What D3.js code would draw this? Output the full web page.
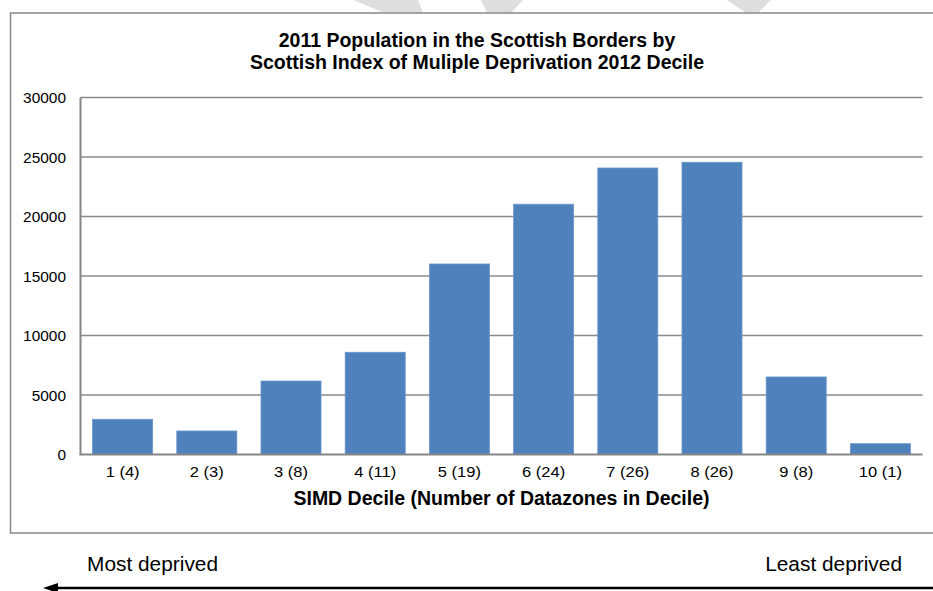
<!DOCTYPE html>
<html>
<head>
<meta charset="utf-8">
<script src="https://cdn.jsdelivr.net/npm/d3@7/dist/d3.min.js"></script>
<style>
  html, body { margin: 0; padding: 0; background: #fff; }
  svg { display: block; font-family: Arial, "Liberation Sans", sans-serif; }
</style>
</head>
<body>
<svg id="chart" width="933" height="591"></svg>
<script>
// Population (2011) per SIMD 2012 decile, Scottish Borders
const deciles = ["1 (4)", "2 (3)", "3 (8)", "4 (11)", "5 (19)", "6 (24)", "7 (26)", "8 (26)", "9 (8)", "10 (1)"];
const population = [2960, 1975, 6175, 8590, 16010, 21030, 24075, 24555, 6515, 910];
const yTicks = [0, 5000, 10000, 15000, 20000, 25000, 30000];
const titleLines = ["2011 Population in the Scottish Borders by", "Scottish Index of Muliple Deprivation 2012 Decile"];
const xAxisTitle = "SIMD Decile (Number of Datazones in Decile)";
const leftNote = "Most deprived";
const rightNote = "Least deprived";

const FONT = "Arial, 'Liberation Sans', sans-serif";
const svg = d3.select("#chart");

// faint background chevrons peeking above the chart frame
const bgShapes = [
  [[353, 0], [418, 0], [423, 13], [385, 13]],
  [[481, 0], [523, 0], [511, 13], [487, 13]],
  [[727, 0], [771, 0], [758, 13], [746, 13]]
];
svg.selectAll("polygon.bg").data(bgShapes).join("polygon")
  .attr("class", "bg")
  .attr("points", d => d.map(p => p.join(",")).join(" "))
  .attr("fill", "#dedede");

// chart frame (right edge runs past the page)
svg.append("rect")
  .attr("x", 10.5).attr("y", 13).attr("width", 934).attr("height", 520)
  .attr("fill", "#fff").attr("stroke", "#888").attr("stroke-width", 1.5);

const plot = { left: 80.5, right: 922.5, top: 97.5, bottom: 454.5 };

const x = d3.scaleBand().domain(deciles)
  .range([plot.left, plot.right])
  .paddingInner(0.287).paddingOuter(0.1435);

const y = d3.scaleLinear().domain([0, 30000]).range([plot.bottom, plot.top]);

// gridlines
svg.append("g").selectAll("line").data(yTicks.filter(t => t > 0)).join("line")
  .attr("x1", plot.left).attr("x2", plot.right)
  .attr("y1", d => y(d)).attr("y2", d => y(d))
  .attr("stroke", "#8a8a8a").attr("stroke-width", 1.5);

// y axis tick labels
const yAxis = d3.axisLeft(y).tickValues(yTicks).tickSize(0).tickFormat(d3.format("d"));
svg.append("g").attr("transform", `translate(${plot.left},0)`).call(yAxis)
  .call(g => g.select(".domain").remove())
  .call(g => g.selectAll("text")
    .attr("x", 0).attr("dy", "0.36em")
    .attr("transform", "translate(-14.5,0) scale(1.03,1)")
    .attr("font-size", 15).attr("fill", "#000").attr("font-family", FONT));

// bars
svg.append("g").selectAll("rect").data(population).join("rect")
  .attr("x", (d, i) => x(deciles[i]))
  .attr("width", x.bandwidth())
  .attr("y", d => y(d))
  .attr("height", d => y(0) - y(d))
  .attr("fill", "#4f81bd")
  .attr("stroke", "#6a96cb").attr("stroke-width", 0.8);

// axis lines
svg.append("line")
  .attr("x1", plot.left).attr("x2", plot.left)
  .attr("y1", plot.top).attr("y2", plot.bottom)
  .attr("stroke", "#868686").attr("stroke-width", 2);

const xAxis = d3.axisBottom(x).tickSize(0).tickPadding(12);
svg.append("g").attr("transform", `translate(0,${plot.bottom})`).call(xAxis)
  .call(g => g.select(".domain").remove())
  .call(g => g.selectAll("text")
    .attr("transform", "scale(1.1,1)")
    .attr("font-size", 15).attr("fill", "#000").attr("font-family", FONT));

svg.append("line")
  .attr("x1", plot.left - 1).attr("x2", plot.right)
  .attr("y1", plot.bottom).attr("y2", plot.bottom)
  .attr("stroke", "#868686").attr("stroke-width", 2);

// title
svg.append("text")
  .attr("x", 477).attr("y", 47)
  .attr("text-anchor", "middle")
  .attr("font-size", 19.5).attr("font-weight", "bold")
  .selectAll("tspan").data(titleLines).join("tspan")
  .attr("x", 477).attr("dy", (d, i) => i === 0 ? 0 : 22)
  .text(d => d);

// x axis title, centred on the plot
svg.append("text")
  .attr("x", (plot.left + plot.right) / 2).attr("y", 505)
  .attr("text-anchor", "middle")
  .attr("font-size", 19.5).attr("font-weight", "bold")
  .text(xAxisTitle);

// direction notes and arrow
svg.append("text")
  .attr("transform", "translate(87,571) scale(1.07,1)")
  .attr("font-size", 19.5).text(leftNote);
svg.append("text")
  .attr("transform", "translate(902,571) scale(1.07,1)")
  .attr("text-anchor", "end").attr("font-size", 19.5).text(rightNote);

svg.append("line")
  .attr("x1", 54).attr("x2", 940)
  .attr("y1", 588).attr("y2", 588)
  .attr("stroke", "#000").attr("stroke-width", 2.5);
svg.append("path")
  .attr("d", "M43,588 L58,583 L58,593 Z")
  .attr("fill", "#000");
</script>
</body>
</html>
